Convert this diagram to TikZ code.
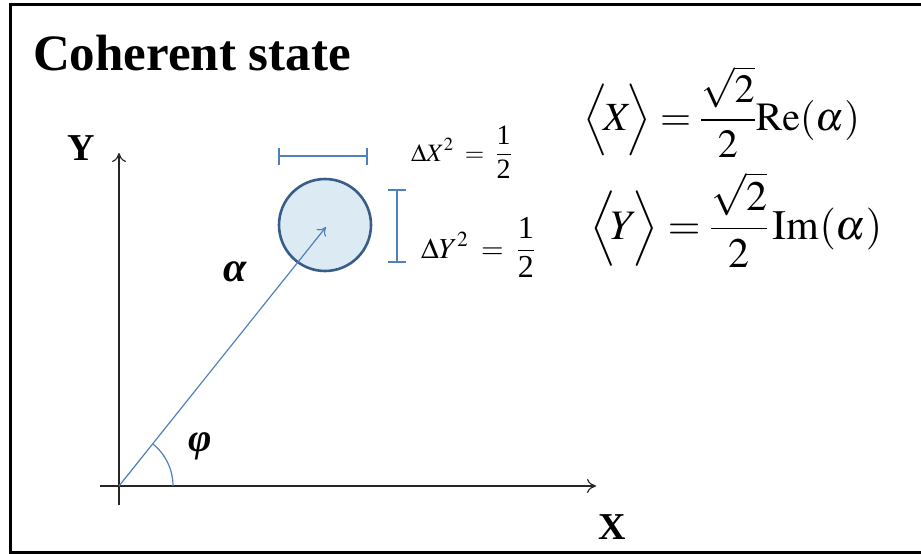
\documentclass[tikz,border=0pt]{standalone}
\usepackage{mathptmx}
\usepackage{fontspec}
\setmainfont{Liberation Serif}
\usetikzlibrary{arrows.meta}
\definecolor{vecblue}{RGB}{79,129,189}
\definecolor{circfill}{RGB}{219,234,243}
\definecolor{circdraw}{RGB}{56,93,138}
\newcommand{\fsz}[1]{\fontsize{#1}{#1}\selectfont}
\newcommand{\bigdig}[2]{\hbox{\fsz{#1}#2}}
\tikzset{
  axis/.style={line width=1.3pt, draw=black!85, -{To[length=9pt,width=14pt,line width=1.2pt]}},
  errbar/.style={line width=1.2pt, draw=vecblue},
  lbl/.style={inner sep=0pt, outer sep=0pt},
}
\begin{document}
\begin{tikzpicture}[x=1pt,y=-1pt]
\useasboundingbox (0,0) rectangle (921,554);
% frame
\draw[line width=3pt] (925,4) -- (10,4) -- (10,552) -- (925,552);
% title
\node[lbl, anchor=base west] (title) at (33,70) {\fsz{51}\bfseries Coherent state};
% axes
\coordinate (O) at (119,486);
\coordinate (xs) at (100,486);
\coordinate (xe) at (596,486);
\coordinate (ys) at (119,505);
\coordinate (ye) at (119,153);
\draw[axis] (xs) -- (xe);
\draw[axis] (ys) -- (ye);
\node[lbl] (Xl) at (612,527) {\fsz{38}\bfseries X};
\node[lbl] (Yl) at (81,148) {\fsz{38}\bfseries Y};
% circle
\node[circle, minimum size=92pt, inner sep=0pt, fill=circfill, draw=circdraw, line width=2.6pt] (C) at (325,225) {};
% vector
\coordinate (tip) at (326,227);
\draw[vecblue, line width=1.2pt, -{To[length=8pt,width=12pt,line width=1.1pt]}] (O) -- (tip);
% angle arc
\draw[vecblue, line width=1.2pt] (173,486) arc[start angle=0, end angle=-51.4, radius=54];
\node[lbl] (phi) at (200,446) {\fsz{40}\bfseries\itshape φ};
\node[lbl] (alpha) at (235,272) {\fsz{42}\bfseries\itshape α};
% error bars
\coordinate (hb1) at (279,156); \coordinate (hb2) at (367,156);
\draw[errbar] (hb1) -- (hb2);
\draw[errbar] (279,148) -- (279,165);
\draw[errbar] (367,148) -- (367,165);
\coordinate (vb1) at (397,190); \coordinate (vb2) at (397,262);
\draw[errbar] (vb1) -- (vb2);
\draw[errbar] (388,190) -- (406,190);
\draw[errbar] (388,262) -- (406,262);
% uncertainties
\node[lbl, anchor=base west] (dx) at (411,161) {\fsz{25}$\displaystyle \Delta X^2\;=\;\frac{\bigdig{28}{1}}{\bigdig{28}{2}}$};
\node[lbl, anchor=base west] (dy) at (421,258) {\fsz{29}$\displaystyle \Delta Y^2\;=\;\frac{\bigdig{32}{1}}{\bigdig{32}{2}}$};
% expectation values
\node[lbl, anchor=base west] (ex) at (583,130) {\fsz{40}$\displaystyle \Big\langle\!X\!\Big\rangle=\frac{\sqrt{2}}{2}\mathrm{Re}(\alpha)$};
\node[lbl, anchor=base west] (ey) at (590,239) {\fsz{42}$\displaystyle \Big\langle\!Y\!\Big\rangle=\frac{\sqrt{2}}{2}\,\mathrm{Im}(\alpha)$};
\end{tikzpicture}
\end{document}
